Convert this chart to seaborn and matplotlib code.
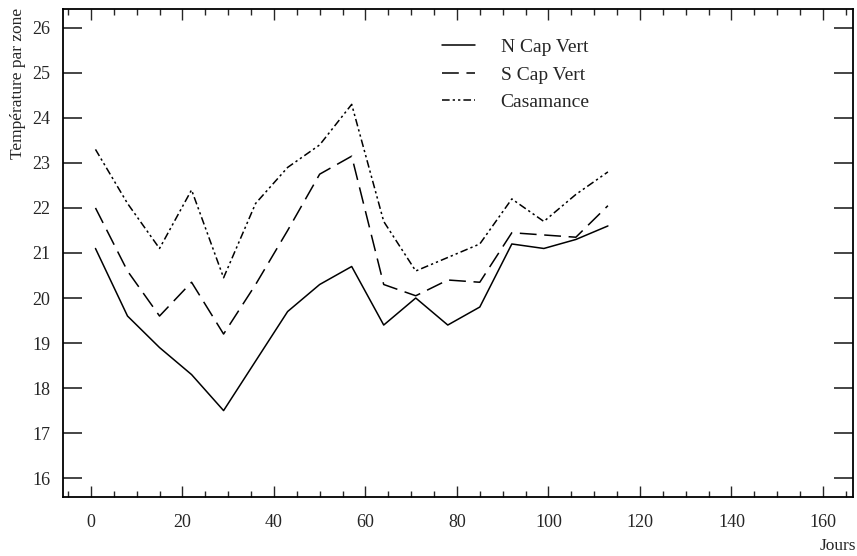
import numpy as np
import pandas as pd
import matplotlib
matplotlib.use('Agg')
import matplotlib.pyplot as plt
import seaborn as sns
from matplotlib.ticker import MultipleLocator

jours = [1, 8, 15, 22, 29, 36, 43, 50, 57, 64, 71, 78, 85, 92, 99, 106, 113]
n_cap_vert = [21.1, 19.6, 18.9, 18.3, 17.5, 18.6, 19.7, 20.3, 20.7, 19.4, 20.0, 19.4, 19.8, 21.2, 21.1, 21.3, 21.6]
s_cap_vert = [22.0, 20.6, 19.6, 20.35, 19.2, 20.3, 21.5, 22.75, 23.15, 20.3, 20.05, 20.4, 20.35, 21.45, 21.4, 21.35, 22.05]
casamance = [23.3, 22.1, 21.1, 22.4, 20.45, 22.1, 22.9, 23.4, 24.3, 21.7, 20.6, 20.9, 21.2, 22.2, 21.7, 22.3, 22.8]
zones = ["N Cap Vert", "S Cap Vert", "Casamance"]

df = pd.DataFrame({
    "jour": jours * 3,
    "temp": n_cap_vert + s_cap_vert + casamance,
    "zone": np.repeat(zones, len(jours)),
})

sns.set_style("ticks")
plt.rcParams['font.family'] = ['Liberation Serif', 'DejaVu Serif']

fig = plt.figure(figsize=(8.57, 5.56), dpi=100)
ax = fig.add_axes([0.0735, 0.106, 0.922, 0.878])

dashes = {"N Cap Vert": "", "S Cap Vert": (11, 5), "Casamance": (5, 2, 1.5, 2, 1.5, 2)}
sns.lineplot(data=df, x="jour", y="temp", style="zone", dashes=dashes,
             color="black", linewidth=1.1, ax=ax, legend=True)

ax.set_xlim(-6.1, 166.6)
ax.set_ylim(15.58, 26.42)
ax.xaxis.set_major_locator(MultipleLocator(20))
ax.xaxis.set_minor_locator(MultipleLocator(5))
ax.yaxis.set_major_locator(MultipleLocator(1))
ax.tick_params(axis='y', which='major', direction='in', length=14, width=1.2,
               right=True, labelsize=13, pad=9)
ax.tick_params(axis='x', which='major', direction='in', length=8, width=1.0,
               top=True, labelsize=13, pad=12)
ax.tick_params(axis='x', which='minor', direction='in', length=4, width=1.0, top=True)
for s in ax.spines.values():
    s.set_linewidth(1.3)
    s.set_color("black")

ax.set_xlabel("")
ax.set_ylabel("")
fig.text(0.021, 0.985, "Température par zone", rotation=90, ha="center", va="top", fontsize=12.5)

leg = ax.legend(frameon=False, loc="upper left", bbox_to_anchor=(0.458, 0.975),
                fontsize=14, handlelength=1.7, handletextpad=1.3, labelspacing=0.5)
for line in leg.get_lines():
    line.set_linewidth(1.1)

fig.text(0.999, 0.004, "Jours", ha="right", va="bottom", fontsize=12.5)

fig.savefig("out.png", dpi=100)
